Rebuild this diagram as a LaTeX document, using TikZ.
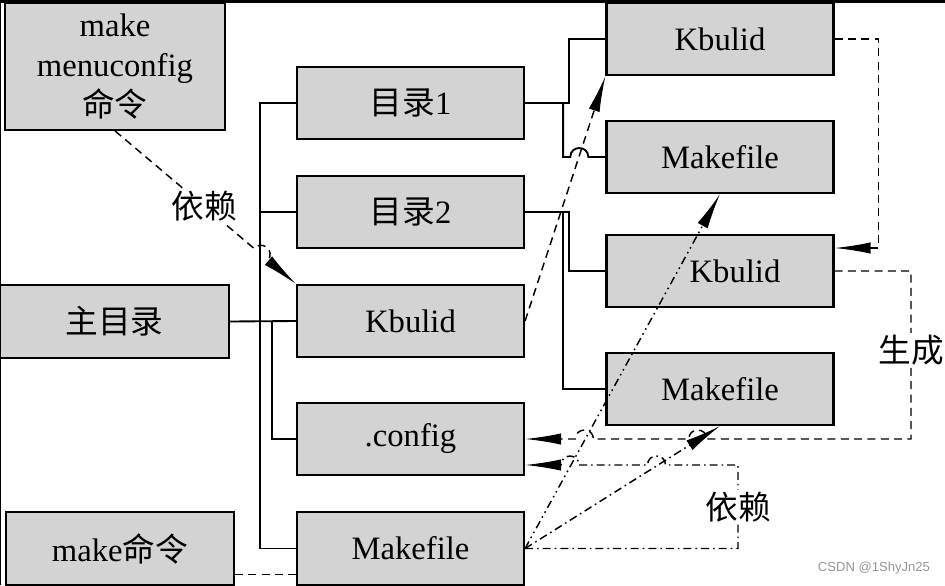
\documentclass[tikz,border=0pt]{standalone}
\usepackage{fontspec}
\setmainfont{Liberation Serif}
\newfontfamily\cjk{Noto Sans CJK SC}
\newfontfamily\marksans{Liberation Sans}
\usetikzlibrary{arrows.meta,calc}
\definecolor{boxgray}{RGB}{211,211,211}
\definecolor{markgray}{RGB}{150,150,150}

\begin{document}
\begin{tikzpicture}[x=0.75pt, y=-0.75pt,
    filebox/.style={draw, line width=1.6pt, fill=boxgray, minimum width=170.25pt,
        minimum height=54pt, inner sep=0pt, font=\fontsize{24.5}{30}\selectfont},
    treelink/.style={line width=1.4pt},
    dashlink/.style={line width=1.1pt, dash pattern=on 6pt off 4pt},
    dotlink/.style={line width=1.1pt, dash pattern=on 6pt off 3pt on 1.2pt off 3pt},
    dotdotlink/.style={line width=1.1pt, dash pattern=on 6pt off 3pt on 1.2pt off 3pt on 1.2pt off 3pt},
    arrowin/.style={-{Latex[length=27pt, width=8.5pt]}},
    jumpl/.style={bend left=90, looseness=1.7},
    jumpr/.style={bend right=90, looseness=1.7},
    midtag/.style={fill=white, inner sep=1pt, font={\cjk\fontsize{24.5}{30}\selectfont}}]

    \useasboundingbox (0,0) rectangle (945,585);
    \draw[line width=2pt] (0,1.3) -- (945,1.3);
    \draw[line width=1pt] (0.7,0) -- (0.7,585);

    \node[filebox, minimum width=165pt, minimum height=95pt, align=center] (menu) at (115,66.5)
        {make\\menuconfig\\{\cjk 命令}};
    \node[filebox, minimum width=171.75pt, minimum height=54.75pt] (root) at (114.5,321.5) {{\cjk 主目录}};
    \node[filebox, minimum width=171pt, minimum height=54.75pt] (makecmd) at (120,548.5) {make{\cjk 命令}};

    \node[filebox] (dir1) at (410.5,103) {{\cjk 目录}1};
    \node[filebox] (dir2) at (410.5,212) {{\cjk 目录}2};
    \node[filebox] (kb) at (410.5,321) {Kbulid};
    \node[filebox] (cfg) at (410.5,439) {.config};
    \node[filebox, minimum height=54.75pt] (mk) at (410.5,548.5) {Makefile};

    \node[filebox] (kb1) at (720,39) {Kbulid};
    \node[filebox] (mk1) at (720,157) {Makefile};
    \node[filebox] (kb2) at (720,271) {\hspace*{22.5pt}Kbulid};
    \node[filebox] (mk2) at (720,389) {Makefile};

    \coordinate (hopA) at (579.3,157);
    \coordinate (hopB) at (261,254.3);
    \coordinate (gen) at (911,439);
    \coordinate (hopC1) at (584.4,439);
    \coordinate (hopC2) at (697.8,439);
    \coordinate (relyturn) at (738,465);
    \coordinate (hopF1) at (570,465);
    \coordinate (hopF2) at (656.5,465);
    \coordinate (cmdout) at ([yshift=-19.5pt]makecmd.east);

    \draw[treelink] (dir1.west) -- ++(-36,0) |- (mk.west);
    \draw[treelink] (dir2.west) -- ++(-36,0);
    \draw[treelink] (root.east) -- (kb.west);
    \draw[treelink] (kb.west) ++(-24,0) |- (cfg.west);

    \draw[treelink] (dir1.east) -- ++(44,0) |- (kb1.west);
    \draw[treelink] (dir1.east) ++(38,0) |- ($(hopA)+(-9,0)$) to[jumpl] ($(hopA)+(9,0)$) -- (mk1.west);
    \draw[treelink] (dir2.east) -- ++(44,0) |- (kb2.west);
    \draw[treelink] (dir2.east) ++(38,0) |- (mk2.west);

    \draw[dashlink, arrowin] (menu.south) -- node[midtag, pos=0.64] {依赖} ($(hopB)!6.75pt!(menu.south)$)
        to[jumpl] ($(hopB)!6.75pt!(kb.north west)$) -- (kb.north west);
    \draw[dashlink, arrowin] (kb.east) -- (kb1.south west);
    \draw[dashlink, arrowin] (kb1.east) -- ++(44,0) |- ([yshift=17.25pt]kb2.east);
    \draw[dashlink, arrowin] (kb2.east) -- (kb2.east -| gen) -- node[midtag, pos=0.47] {生成} (gen)
        -- ($(hopC2)+(9,0)$) to[jumpr] ($(hopC2)+(-9,0)$)
        -- ($(hopC1)+(9,0)$) to[jumpr] ($(hopC1)+(-9,0)$) -- (cfg.east);

    \draw[dotdotlink, arrowin] (mk.east) -- (mk1.south);
    \draw[dotlink, arrowin] (mk.east) -- (mk2.south);
    \draw[dotlink, arrowin] (mk.east) -- (mk.east -| relyturn) -- node[midtag] {依赖} (relyturn)
        -- ($(hopF2)+(9,0)$) to[jumpr] ($(hopF2)+(-9,0)$)
        -- ($(hopF1)+(9,0)$) to[jumpr] ($(hopF1)+(-9,0)$) -- (relyturn -| cfg.east);

    \draw[dashlink] (cmdout) -- (cmdout -| mk.west);

    \node[font=\marksans\fontsize{9.8}{12}\selectfont, text=markgray] (mark) at (874,568) {CSDN @1ShyJn25};
\end{tikzpicture}
\end{document}
